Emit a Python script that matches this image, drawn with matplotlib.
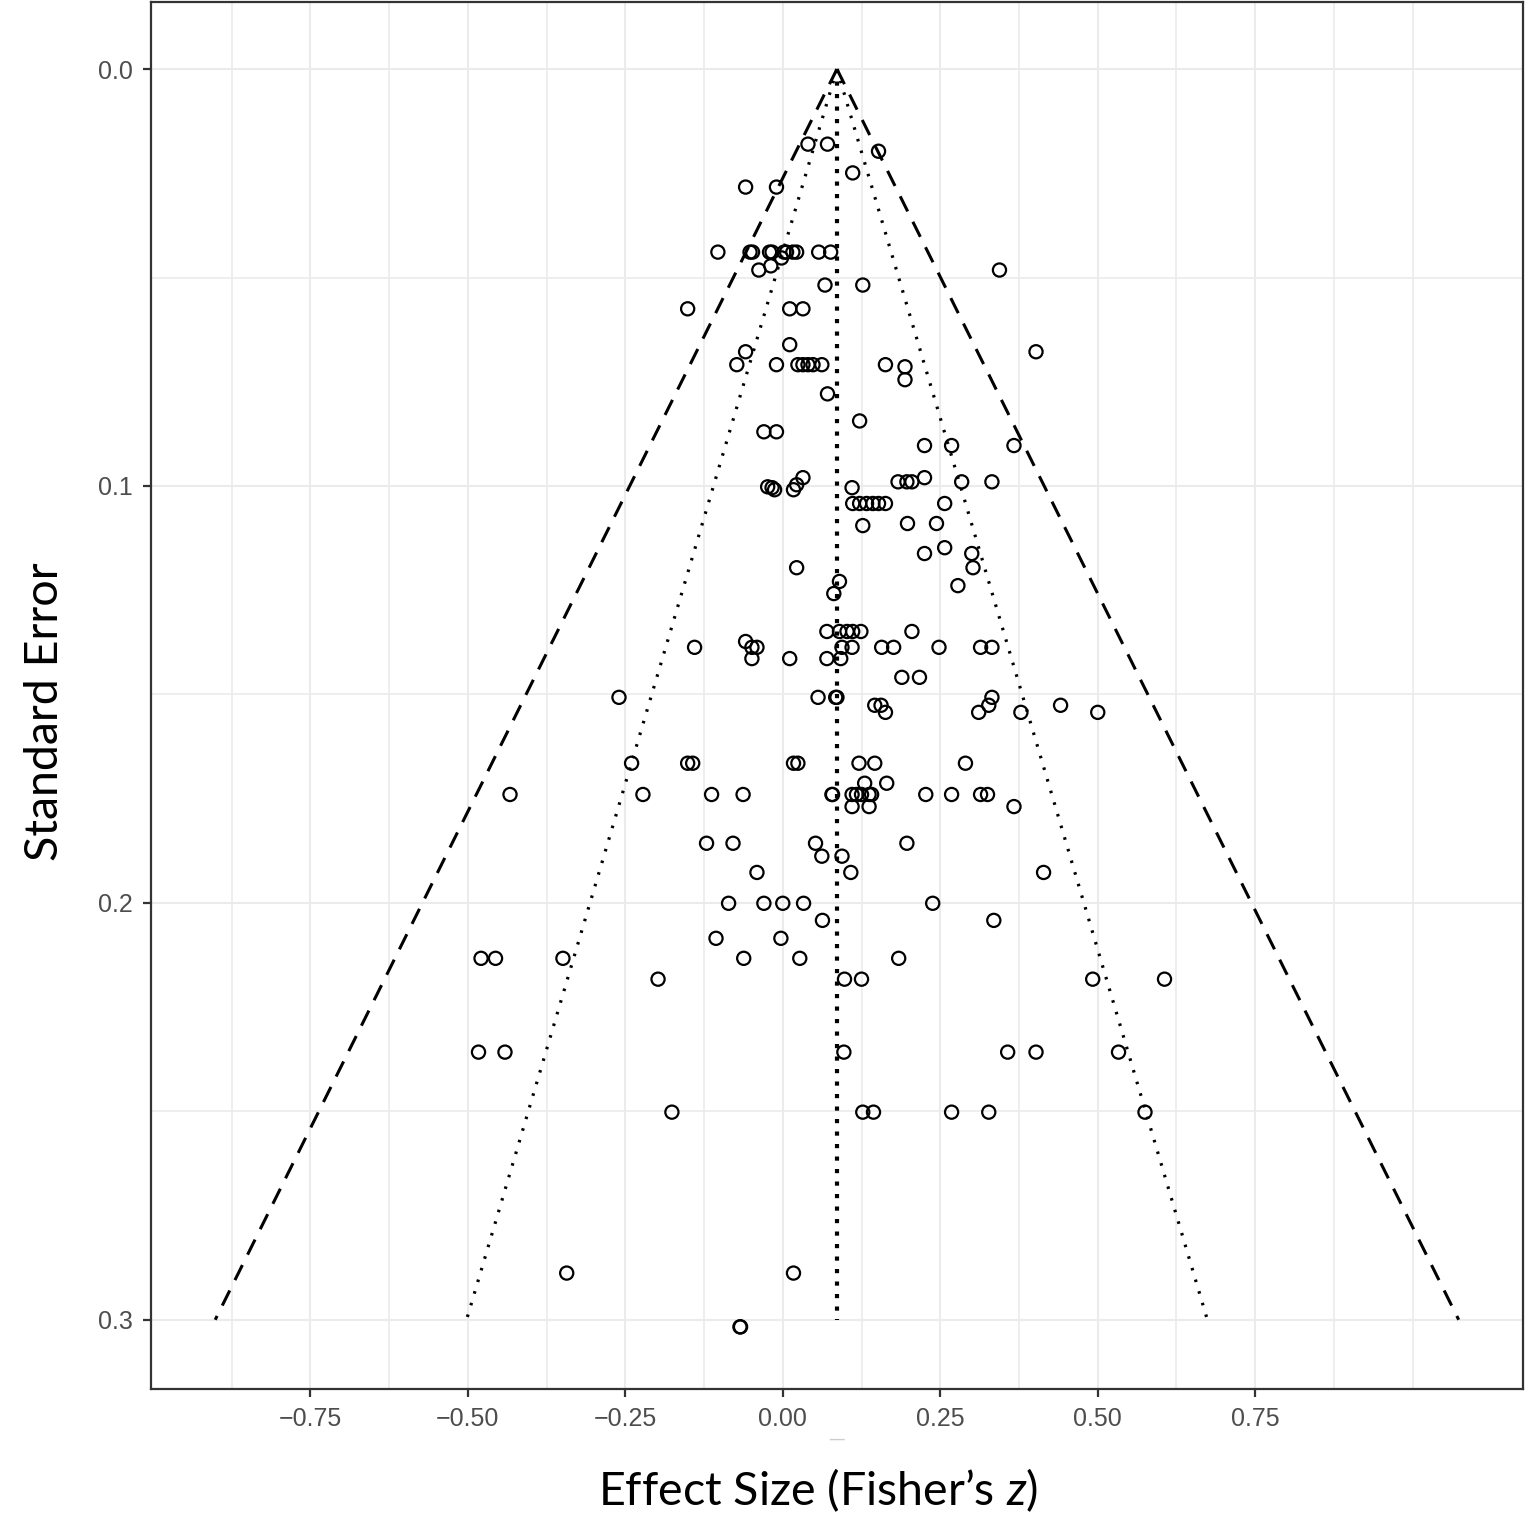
import numpy as np
import matplotlib
matplotlib.use("Agg")
import matplotlib.pyplot as plt
from matplotlib.ticker import FixedLocator

# funnel plot data: effect size (Fisher's z) and standard error per study
effect_size = [
    0.040, 0.071, 0.152, 0.111, -0.059, -0.010,
    -0.103, -0.052, -0.048, -0.021, -0.017, 0.002, 0.006, 0.016, 0.022, 0.057, 0.076,
    -0.002, -0.019, -0.038, 0.344, 0.067, 0.127,
    -0.151, 0.011, 0.032, 0.011, -0.059, 0.402,
    -0.073, -0.010, 0.024, 0.032, 0.040, 0.048, 0.062, 0.163,
    0.194, 0.194, 0.071, 0.122, -0.030, -0.010,
    0.225, 0.268, 0.367, 0.225, 0.032,
    0.183, 0.197, 0.205, 0.284, 0.332, 0.022, -0.024, -0.017, 0.110, -0.013, 0.017,
    0.111, 0.122, 0.133, 0.143, 0.152, 0.163, 0.257,
    0.198, 0.244, 0.127, 0.257, 0.225, 0.300, 0.022, 0.302,
    0.090, 0.278, 0.081,
    0.070, 0.090, 0.102, 0.111, 0.124, 0.205, -0.059,
    -0.140, -0.049, -0.041, 0.094, 0.110, 0.157, 0.176, 0.248, 0.314, 0.332,
    -0.049, 0.011, 0.070, 0.092, 0.189, 0.217,
    -0.260, 0.056, 0.084, 0.086, 0.332,
    0.146, 0.156, 0.327, 0.441, 0.163, 0.311, 0.378, 0.500,
    -0.240, -0.151, -0.143, 0.017, 0.024, 0.121, 0.146, 0.290,
    0.130, 0.165,
    -0.433, -0.222, -0.113, -0.063, 0.078, 0.079, 0.110, 0.117, 0.125, 0.137, 0.141,
    0.227, 0.268, 0.314, 0.325,
    0.110, 0.137, 0.367,
    -0.121, -0.079, 0.052, 0.197, 0.062, 0.094,
    -0.041, 0.108, 0.414,
    -0.086, -0.030, 0.000, 0.033, 0.238, 0.063, 0.335,
    -0.106, -0.003,
    -0.479, -0.456, -0.349, -0.062, 0.027, 0.184,
    -0.198, 0.098, 0.125, 0.492, 0.606,
    -0.483, -0.441, 0.097, 0.357, 0.402, 0.533,
    -0.176, 0.127, 0.144, 0.268, 0.327, 0.575,
    -0.343, 0.017, -0.068, -0.067,
]
std_error = [
    0.0180, 0.0180, 0.0197, 0.0249, 0.0283, 0.0283,
    0.0439, 0.0439, 0.0439, 0.0439, 0.0439, 0.0439, 0.0439, 0.0439, 0.0439, 0.0439, 0.0439,
    0.0453, 0.0472, 0.0482, 0.0482, 0.0518, 0.0518,
    0.0575, 0.0575, 0.0575, 0.0661, 0.0678, 0.0678,
    0.0709, 0.0709, 0.0709, 0.0709, 0.0709, 0.0709, 0.0709, 0.0709,
    0.0714, 0.0745, 0.0779, 0.0844, 0.0870, 0.0870,
    0.0903, 0.0903, 0.0903, 0.0980, 0.0980,
    0.0990, 0.0990, 0.0990, 0.0990, 0.0990, 0.0997, 0.1002, 0.1004, 0.1004, 0.1009, 0.1009,
    0.1042, 0.1042, 0.1042, 0.1042, 0.1042, 0.1042, 0.1042,
    0.1090, 0.1090, 0.1095, 0.1148, 0.1162, 0.1162, 0.1196, 0.1196,
    0.1229, 0.1239, 0.1258,
    0.1349, 0.1349, 0.1349, 0.1349, 0.1349, 0.1349, 0.1373,
    0.1387, 0.1387, 0.1387, 0.1387, 0.1387, 0.1387, 0.1387, 0.1387, 0.1387, 0.1387,
    0.1414, 0.1414, 0.1414, 0.1414, 0.1459, 0.1459,
    0.1507, 0.1507, 0.1507, 0.1507, 0.1507,
    0.1526, 0.1526, 0.1526, 0.1526, 0.1543, 0.1543, 0.1543, 0.1543,
    0.1665, 0.1665, 0.1665, 0.1665, 0.1665, 0.1665, 0.1665, 0.1665,
    0.1713, 0.1713,
    0.1740, 0.1740, 0.1740, 0.1740, 0.1740, 0.1740, 0.1740, 0.1740, 0.1740, 0.1740, 0.1740,
    0.1740, 0.1740, 0.1740, 0.1740,
    0.1769, 0.1769, 0.1769,
    0.1857, 0.1857, 0.1857, 0.1857, 0.1888, 0.1888,
    0.1927, 0.1927, 0.1927,
    0.2001, 0.2001, 0.2001, 0.2001, 0.2001, 0.2042, 0.2042,
    0.2085, 0.2085,
    0.2133, 0.2133, 0.2133, 0.2133, 0.2133, 0.2133,
    0.2183, 0.2183, 0.2183, 0.2183, 0.2183,
    0.2358, 0.2358, 0.2358, 0.2358, 0.2358, 0.2358,
    0.2502, 0.2502, 0.2502, 0.2502, 0.2502, 0.2502,
    0.2888, 0.2888, 0.3017, 0.3017,
]

mean_es = 0.086
se_max = 0.30
z95 = 1.96
z999 = 3.29

x_ticks = [-0.75, -0.50, -0.25, 0.00, 0.25, 0.50, 0.75]
x_tick_labels = ["\u22120.75", "\u22120.50", "\u22120.25", "0.00", "0.25", "0.50", "0.75"]
x_grid_minor = [-0.875, -0.625, -0.375, -0.125, 0.125, 0.375, 0.625, 0.875, 1.0]
y_ticks = [0.0, 0.1, 0.2, 0.3]
y_tick_labels = ["0.0", "0.1", "0.2", "0.3"]
y_grid_minor = [0.05, 0.15, 0.25]

plt.rcParams['mathtext.fontset'] = 'custom'
plt.rcParams['mathtext.it'] = 'Lato:italic'
plt.rcParams['mathtext.rm'] = 'Lato'

fig = plt.figure(figsize=(15.34, 15.24), dpi=100)
ax = fig.add_axes([0.0984, 0.0886, 0.8944, 0.9101])

grid_c = "#EBEBEB"
for gx in x_grid_minor:
    ax.axvline(gx, color=grid_c, lw=1.2, zorder=0)
for gy in y_grid_minor:
    ax.axhline(gy, color=grid_c, lw=1.2, zorder=0)
ax.grid(True, color=grid_c, lw=1.5, zorder=0)
ax.set_axisbelow(True)

# funnel lines
se_line = np.array([0.0, se_max])
ax.plot(mean_es - z999 * se_line, se_line, color="black", lw=2.2, dashes=(5.5, 3.8), zorder=2)
ax.plot(mean_es + z999 * se_line, se_line, color="black", lw=2.2, dashes=(5.5, 3.8), zorder=2)
ax.plot(mean_es - z95 * se_line, se_line, color="black", lw=2.3, dashes=(0.8, 3.0), zorder=2)
ax.plot(mean_es + z95 * se_line, se_line, color="black", lw=2.3, dashes=(0.8, 3.0), zorder=2)
ax.plot([mean_es, mean_es], se_line, color="black", lw=3.0, dashes=(1.0, 2.0), zorder=2)

ax.scatter(effect_size, std_error, s=90, facecolors="none", edgecolors="black",
           linewidths=1.6, zorder=3)

ax.set_xlim(-1.003, 1.175)
ax.set_ylim(0.3166, -0.0161)

ax.xaxis.set_major_locator(FixedLocator(x_ticks))
ax.set_xticklabels(x_tick_labels)
ax.yaxis.set_major_locator(FixedLocator(y_ticks))
ax.set_yticklabels(y_tick_labels)

for sp in ax.spines.values():
    sp.set_color("#333333")
    sp.set_linewidth(1.6)
ax.tick_params(axis="both", colors="#333333", width=1.6, length=6,
               labelsize=18, labelcolor="#4D4D4D", pad=7)
for lab in ax.get_xticklabels() + ax.get_yticklabels():
    lab.set_family("Liberation Sans")

# small stray mark under the axis at the pooled estimate
ax.text(mean_es, -0.036, "\u2014", transform=ax.get_xaxis_transform(),
        ha="center", va="center", color="#CCCCCC", fontsize=12, family="DejaVu Sans")

ax.set_xlabel(r"Effect Size (Fisher’s $z$)", family="Lato", fontsize=33.5)
ax.set_ylabel("Standard Error", family="Lato", fontsize=33.5)
ax.xaxis.set_label_coords(0.486, -0.056)
ax.yaxis.set_label_coords(-0.062, 0.488)

fig.savefig("out.png", dpi=100)
